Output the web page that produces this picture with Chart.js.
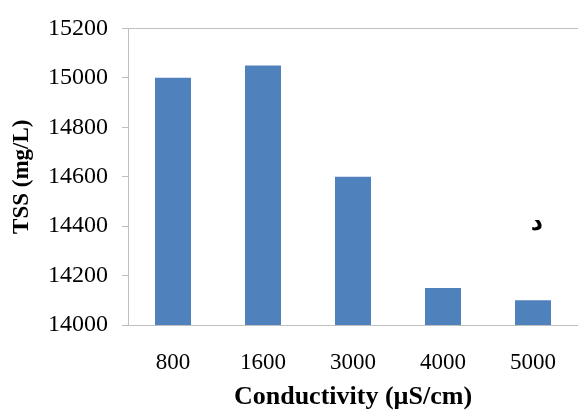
<!DOCTYPE html>
<html>
<head>
<meta charset="utf-8">
<script src="https://cdn.jsdelivr.net/npm/chart.js@4/dist/chart.umd.min.js"></script>
<style>
    html, body { margin: 0; padding: 0; background: #fff; overflow: hidden; }
    canvas { display: block; }
</style>
</head>
<body>
<canvas id="tss-chart" width="578" height="410"></canvas>
<script>
    // conductivity categories and measured TSS
    var conductivity = ['800', '1600', '3000', '4000', '5000'];
    var tss = [15000, 15050, 14600, 14150, 14100];

    var yMin = 14000;
    var yMax = 15200;
    var yStep = 200;

    // small label written inside the plot, near the last bar
    var noteText = 'د';
    var noteIndex = 4;
    var noteValue = 14410;

    var barColor = '#4f81bd';
    var axisColor = '#bfbfbf';
    var serif = "'Liberation Serif', 'Times New Roman', serif";

    var notePlugin = {
        id: 'note',
        afterDatasetsDraw: function (chart) {
            var ctx = chart.ctx;
            var x = chart.scales.x.getPixelForValue(noteIndex);
            var y = chart.scales.y.getPixelForValue(noteValue);
            ctx.save();
            ctx.fillStyle = '#000';
            ctx.font = "bold 24px 'DejaVu Sans'";
            ctx.textAlign = 'center';
            ctx.textBaseline = 'middle';
            ctx.fillText(noteText, x + 4, y);
            ctx.restore();
        }
    };

    var ctx = document.getElementById('tss-chart').getContext('2d');
    new Chart(ctx, {
        type: 'bar',
        data: {
            labels: conductivity,
            datasets: [{
                data: tss,
                backgroundColor: barColor,
                borderWidth: 0,
                barPercentage: 0.4,
                categoryPercentage: 1
            }]
        },
        options: {
            responsive: false,
            animation: false,
            devicePixelRatio: 1,
            layout: { padding: { top: 22, right: 0, bottom: 0, left: 0 } },
            plugins: {
                legend: { display: false },
                tooltip: { enabled: false }
            },
            scales: {
                x: {
                    grid: { display: false },
                    border: { display: true, color: axisColor, width: 1 },
                    ticks: {
                        color: '#000',
                        padding: 16,
                        font: { family: serif, size: 23 }
                    },
                    title: {
                        display: true,
                        text: 'Conductivity (µS/cm)',
                        color: '#000',
                        padding: { top: 0, bottom: 0 },
                        font: { family: serif, size: 26, weight: 'bold', lineHeight: 1 }
                    },
                    afterFit: function (scale) { scale.height = 85; }
                },
                y: {
                    min: yMin,
                    max: yMax,
                    grid: {
                        drawTicks: true,
                        tickLength: 6,
                        tickColor: axisColor,
                        color: function (c) {
                            return c.tick && c.tick.value === yMax ? axisColor : 'rgba(0,0,0,0)';
                        }
                    },
                    border: { display: true, color: axisColor, width: 1 },
                    ticks: {
                        stepSize: yStep,
                        color: '#000',
                        padding: 14,
                        font: { family: serif, size: 24 },
                        callback: function (value) { return String(value); }
                    },
                    title: {
                        display: true,
                        text: 'TSS (mg/L)',
                        color: '#000',
                        padding: { top: 11, bottom: 0 },
                        font: { family: serif, size: 23, weight: 'bold', lineHeight: 1 }
                    },
                    afterFit: function (scale) { scale.width = 128; }
                }
            }
        },
        plugins: [notePlugin]
    });
</script>
</body>
</html>
